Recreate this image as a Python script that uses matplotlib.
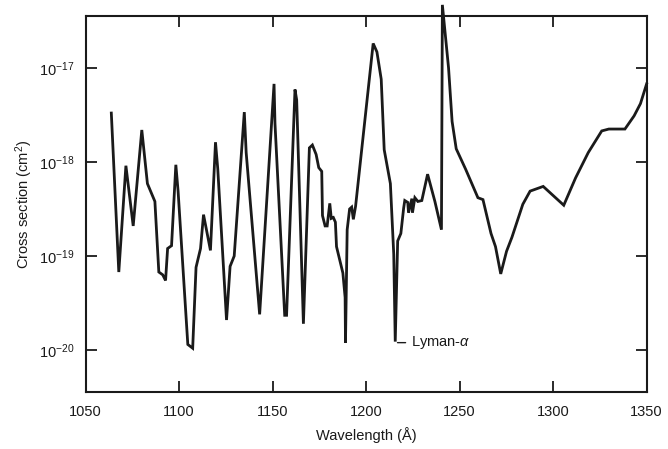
import numpy as np
import matplotlib
matplotlib.use("Agg")
import matplotlib.pyplot as plt
from matplotlib.ticker import FixedLocator, NullLocator, LogFormatterMathtext

plt.rcParams['font.family'] = ['Liberation Sans', 'DejaVu Sans']
plt.rcParams['mathtext.fontset'] = 'custom'
plt.rcParams['mathtext.rm'] = 'Liberation Sans'
plt.rcParams['mathtext.it'] = 'Liberation Sans:italic'

# Wavelength (Angstrom) and log10 of cross section (cm^2)
wavelength = [
    1063.8, 1067.8, 1071.6, 1075.5, 1080.1, 1083.1, 1087.1, 1089.2, 1091.3, 1092.8,
    1093.9, 1096.0, 1098.3, 1099.5, 1104.7, 1107.3, 1109.1, 1111.5, 1113.1, 1116.8,
    1119.5, 1120.7, 1125.4, 1127.3, 1129.5, 1134.9, 1135.9, 1143.1, 1150.8, 1151.3,
    1156.5, 1157.5, 1162.0, 1162.9, 1166.5, 1169.7, 1171.3, 1173.3, 1174.7, 1176.3,
    1176.7, 1178.1, 1179.2, 1180.6, 1181.4, 1182.5, 1183.6, 1184.2, 1187.6, 1188.8,
    1189.0, 1189.9, 1191.2, 1192.3, 1193.2, 1194.4, 1203.8, 1205.8, 1208.1, 1209.7,
    1213.0, 1214.8, 1215.6, 1216.9, 1218.6, 1220.1, 1220.7, 1222.3, 1222.7, 1224.5,
    1224.8, 1226.1, 1227.7, 1229.8, 1232.9, 1236.8, 1240.3, 1240.8, 1244.1, 1246.0,
    1248.2, 1253.3, 1259.8, 1262.5, 1266.8, 1269.2, 1272.0, 1275.1, 1278.0, 1283.8,
    1287.7, 1294.7, 1305.7, 1312.0, 1318.8, 1326.0, 1329.8, 1338.4, 1343.3, 1346.7,
    1350.0,
]
log_sigma = [
    -17.48, -19.17, -18.04, -18.68, -17.66, -18.23, -18.42, -19.17, -19.20, -19.26,
    -18.92, -18.89, -18.03, -18.31, -19.94, -19.98, -19.12, -18.92, -18.56, -18.94,
    -17.79, -18.07, -19.68, -19.11, -19.00, -17.47, -17.90, -19.62, -17.17, -17.59,
    -19.63, -19.63, -17.23, -17.34, -19.72, -17.85, -17.82, -17.92, -18.06, -18.10,
    -18.57, -18.68, -18.68, -18.44, -18.60, -18.59, -18.64, -18.90, -19.18, -19.44,
    -19.92, -18.72, -18.50, -18.48, -18.61, -18.47, -16.74, -16.83, -17.12, -17.87,
    -18.23, -18.98, -19.91, -18.84, -18.76, -18.49, -18.41, -18.43, -18.54, -18.39,
    -18.54, -18.38, -18.42, -18.41, -18.13, -18.42, -18.72, -16.33, -17.00, -17.57,
    -17.86, -18.08, -18.38, -18.40, -18.76, -18.90, -19.19, -18.95, -18.80, -18.45,
    -18.31, -18.26, -18.46, -18.17, -17.90, -17.67, -17.65, -17.65, -17.51, -17.38,
    -17.17,
]

x_ticks = [1050, 1100, 1150, 1200, 1250, 1300, 1350]
y_ticks = [1e-20, 1e-19, 1e-18, 1e-17]
lyman_label = 'Lyman-$\\alpha$'
lyman_wl = 1215.6
lyman_val = 1.2e-20

sigma = 10.0 ** np.array(log_sigma)

fig = plt.figure(figsize=(6.68, 4.49), dpi=100)
ax = fig.add_axes([0.128, 0.126, 0.840, 0.838])

ax.plot(wavelength, sigma, color='#1a1a1a', lw=2.0, solid_joinstyle='miter', clip_on=False)
ax.set_yscale('log')
ax.set_xlim(1050, 1350)
ax.set_ylim(10 ** -20.45, 10 ** -16.45)

ax.xaxis.set_major_locator(FixedLocator(x_ticks))
ax.yaxis.set_major_locator(FixedLocator(y_ticks))
ax.yaxis.set_minor_locator(NullLocator())
ax.yaxis.set_major_formatter(LogFormatterMathtext())
ax.tick_params(which='major', direction='in', length=8, width=1.3,
               top=True, right=True, labelsize=10.5, color='#1a1a1a',
               labelcolor='#1a1a1a')
ax.tick_params(axis='y', pad=8)
ax.tick_params(axis='x', pad=9)
for s in ax.spines.values():
    s.set_linewidth(1.5)
    s.set_color('#1a1a1a')

ax.set_xlabel('Wavelength (\u00c5)', fontsize=10.5, color='#1a1a1a', labelpad=6)
ax.set_ylabel('Cross section (cm$^2$)', fontsize=10.5, color='#1a1a1a', labelpad=3)

ax.annotate(lyman_label, xy=(lyman_wl + 1.2, lyman_val), xytext=(lyman_wl + 8.5, lyman_val),
            fontsize=10.5, color='#1a1a1a', va='center', ha='left',
            arrowprops=dict(arrowstyle='-', color='#1a1a1a', lw=1.0, shrinkA=2, shrinkB=0))

fig.savefig('out.png', dpi=100)
